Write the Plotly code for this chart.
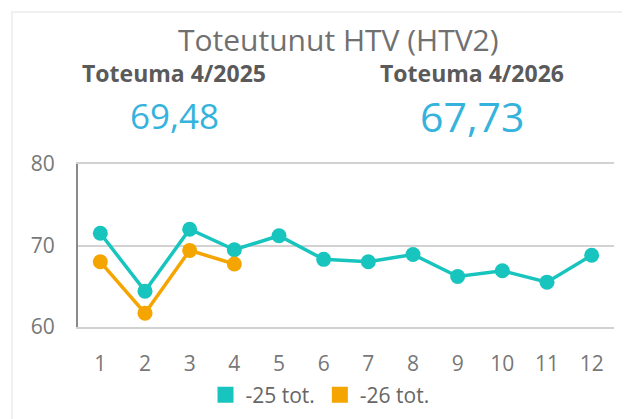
import plotly.graph_objects as go

months = [str(i) for i in range(1, 13)]
series_25 = [71.5, 64.4, 72.0, 69.48, 71.2, 68.3, 68.0, 68.9, 66.2, 66.9, 65.5, 68.8]
series_26 = [68.0, 61.7, 69.4, 67.73]
name_25 = "-25 tot."
name_26 = "-26 tot."
title_text = "Toteutunut HTV (HTV2)"
kpi_labels = ["Toteuma 4/2025", "Toteuma 4/2026"]
kpi_values = ["69,48", "67,73"]
y_ticks = [60, 70, 80]

TEAL = "#18c4be"
ORANGE = "#f5a500"
FONT = "Open Sans"

OFF = 8  # page body margin offset
L, T, W, H = 78 - OFF, 164 - OFF, 536, 163  # plot area in figure px


def px_x(x):
    return (x - OFF - L) / W


def px_y(y):
    return (T + H - (y - OFF)) / H


fig = go.Figure()
fig.add_trace(go.Scatter(x=months, y=series_25, name=name_25, mode="lines+markers", showlegend=False,
                         line=dict(color=TEAL, width=3.5), marker=dict(size=15, color=TEAL)))
fig.add_trace(go.Scatter(x=months[:len(series_26)], y=series_26, name=name_26, mode="lines+markers",
                         showlegend=False,
                         line=dict(color=ORANGE, width=3.5), marker=dict(size=15, color=ORANGE)))
# legend entries (square swatches)
for nm, col in [(name_25, TEAL), (name_26, ORANGE)]:
    fig.add_trace(go.Scatter(x=[None], y=[None], name=nm, mode="markers",
                             marker=dict(symbol="square", size=18, color=col)))

fig.update_layout(
    width=630, height=419,
    margin=dict(l=L, r=630 - L - W, t=T, b=419 - T - H, autoexpand=False),
    paper_bgcolor="white", plot_bgcolor="white",
    font=dict(family=FONT, color="#666"),
    showlegend=True,
    legend=dict(orientation="h", x=px_x(320), xanchor="center", y=px_y(395), yanchor="middle",
                font=dict(size=21, color="#666"), itemwidth=30, tracegroupgap=0),
    xaxis=dict(type="category", range=[-0.5, 11.5], showgrid=False, showline=True, mirror=True,
               linecolor="#d2d2d2", linewidth=1.5,
               tickfont=dict(size=21, color="#777"), ticks="", ticklabelstandoff=17),
    yaxis=dict(range=[60, 80], tickvals=y_ticks, showgrid=True, gridcolor="#d2d2d2", gridwidth=1.5,
               showline=True, linecolor="#8a8a8a", linewidth=2, zeroline=False,
               tickfont=dict(size=21, color="#777"), ticks="", ticklabelstandoff=17),
)

fig.add_shape(type="rect", xref="paper", yref="paper", x0=px_x(12), x1=px_x(628), y0=px_y(440), y1=px_y(12),
              line=dict(color="#ececec", width=1.5), layer="below")

fig.add_annotation(text=title_text, xref="paper", yref="paper", x=px_x(338), y=px_y(40),
                   showarrow=False, font=dict(size=30, color="#707070"), xanchor="center", yanchor="middle")
kx = [174, 472]
vx = [174, 472]
vsize = [35, 41]
for i in range(2):
    fig.add_annotation(text="<b>" + kpi_labels[i] + "</b>", xref="paper", yref="paper", x=px_x(kx[i]),
                       y=px_y(73), showarrow=False, font=dict(size=23, color="#5a5a5a"),
                       xanchor="center", yanchor="middle")
    fig.add_annotation(text=kpi_values[i], xref="paper", yref="paper", x=px_x(vx[i]),
                       y=px_y(116), showarrow=False, font=dict(size=vsize[i], color="#35b3dd"),
                       xanchor="center", yanchor="middle")

fig.write_html("out.html")
